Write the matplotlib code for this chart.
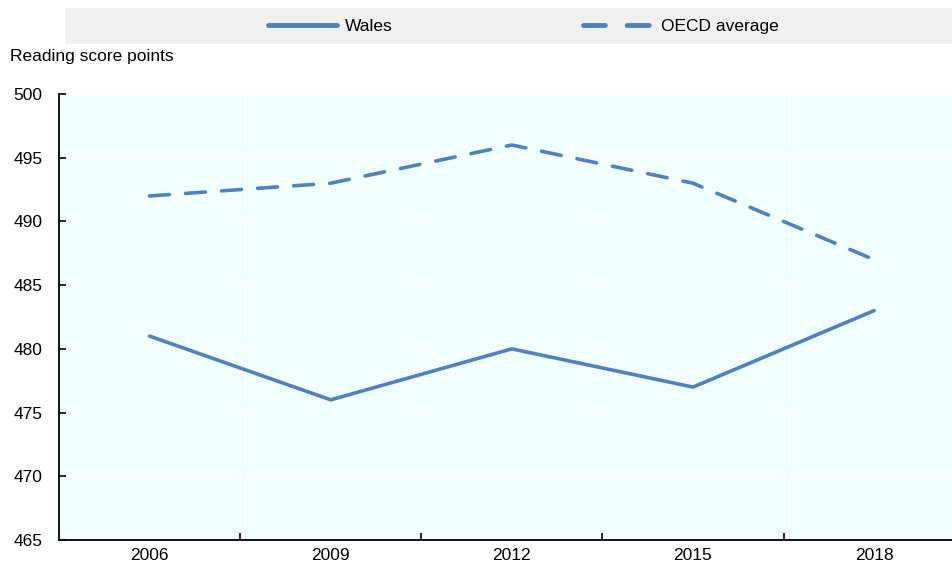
import matplotlib
matplotlib.use("Agg")
import matplotlib.pyplot as plt
from matplotlib.patches import Rectangle
from matplotlib.lines import Line2D

years = ["2006", "2009", "2012", "2015", "2018"]
wales = [481, 476, 480, 477, 483]
oecd = [492, 493, 496, 493, 487]
yticks = [465, 470, 475, 480, 485, 490, 495, 500]

plt.rcParams['font.family'] = ['Liberation Sans', 'DejaVu Sans']

W, H = 953, 568
fig = plt.figure(figsize=(W/100, H/100), dpi=100)
ax = fig.add_axes([59/W, 1-540/H, (952-59)/W, (540-94)/H])

color = '#4f81bd'
x = list(range(len(years)))
ax.set_facecolor('#f2ffff')
ax.plot(x, wales, color=color, lw=2.6, solid_capstyle='round', label='Wales')
ax.plot(x, oecd, color=color, lw=2.6, linestyle=(0, (5.5, 4.5)), dash_capstyle='round', label='OECD average')

ax.set_ylim(465, 500)
ax.set_yticks(yticks)
ax.set_xlim(-0.5, 4.43)
ax.set_xticks(x)
ax.set_xticklabels(years)
ax.set_xticks([i + 0.5 for i in range(len(years) - 1)], minor=True)
ax.tick_params(axis='x', which='major', length=0, labelsize=12.5, pad=6)
ax.tick_params(axis='x', which='minor', direction='in', length=5, width=1.2)
ax.tick_params(axis='y', direction='in', length=5, width=1.2, labelsize=12.5, pad=12)

ax.grid(True, axis='y', color='white', lw=1)
ax.grid(True, axis='x', which='minor', color='white', lw=1)
ax.set_axisbelow(True)
for s in ['top', 'right']:
    ax.spines[s].set_visible(False)
for s in ['left', 'bottom']:
    ax.spines[s].set_linewidth(1.3)
    ax.spines[s].set_color('black')

fig.text(10/W, 1-57/H, 'Reading score points', fontsize=12.5, va='center', ha='left')

fig.patches.append(Rectangle((65/W, 1-44/H), (953-65)/W, 36/H, transform=fig.transFigure,
                             facecolor='#f0f0f0', edgecolor='none', zorder=0))
handles = [Line2D([], [], color=color, lw=3.5, solid_capstyle='round'),
           Line2D([], [], color=color, lw=3.5, linestyle=(0, (4.5, 4.5)), dash_capstyle='round')]
fig.legend(handles, ['Wales', 'OECD average'], loc='center', bbox_to_anchor=(523/W, 1-26/H),
           ncol=2, frameon=False, fontsize=12.5, handlelength=4.0, handletextpad=0.45,
           columnspacing=11.0, borderpad=0, borderaxespad=0)

fig.savefig('out.png', dpi=100)
